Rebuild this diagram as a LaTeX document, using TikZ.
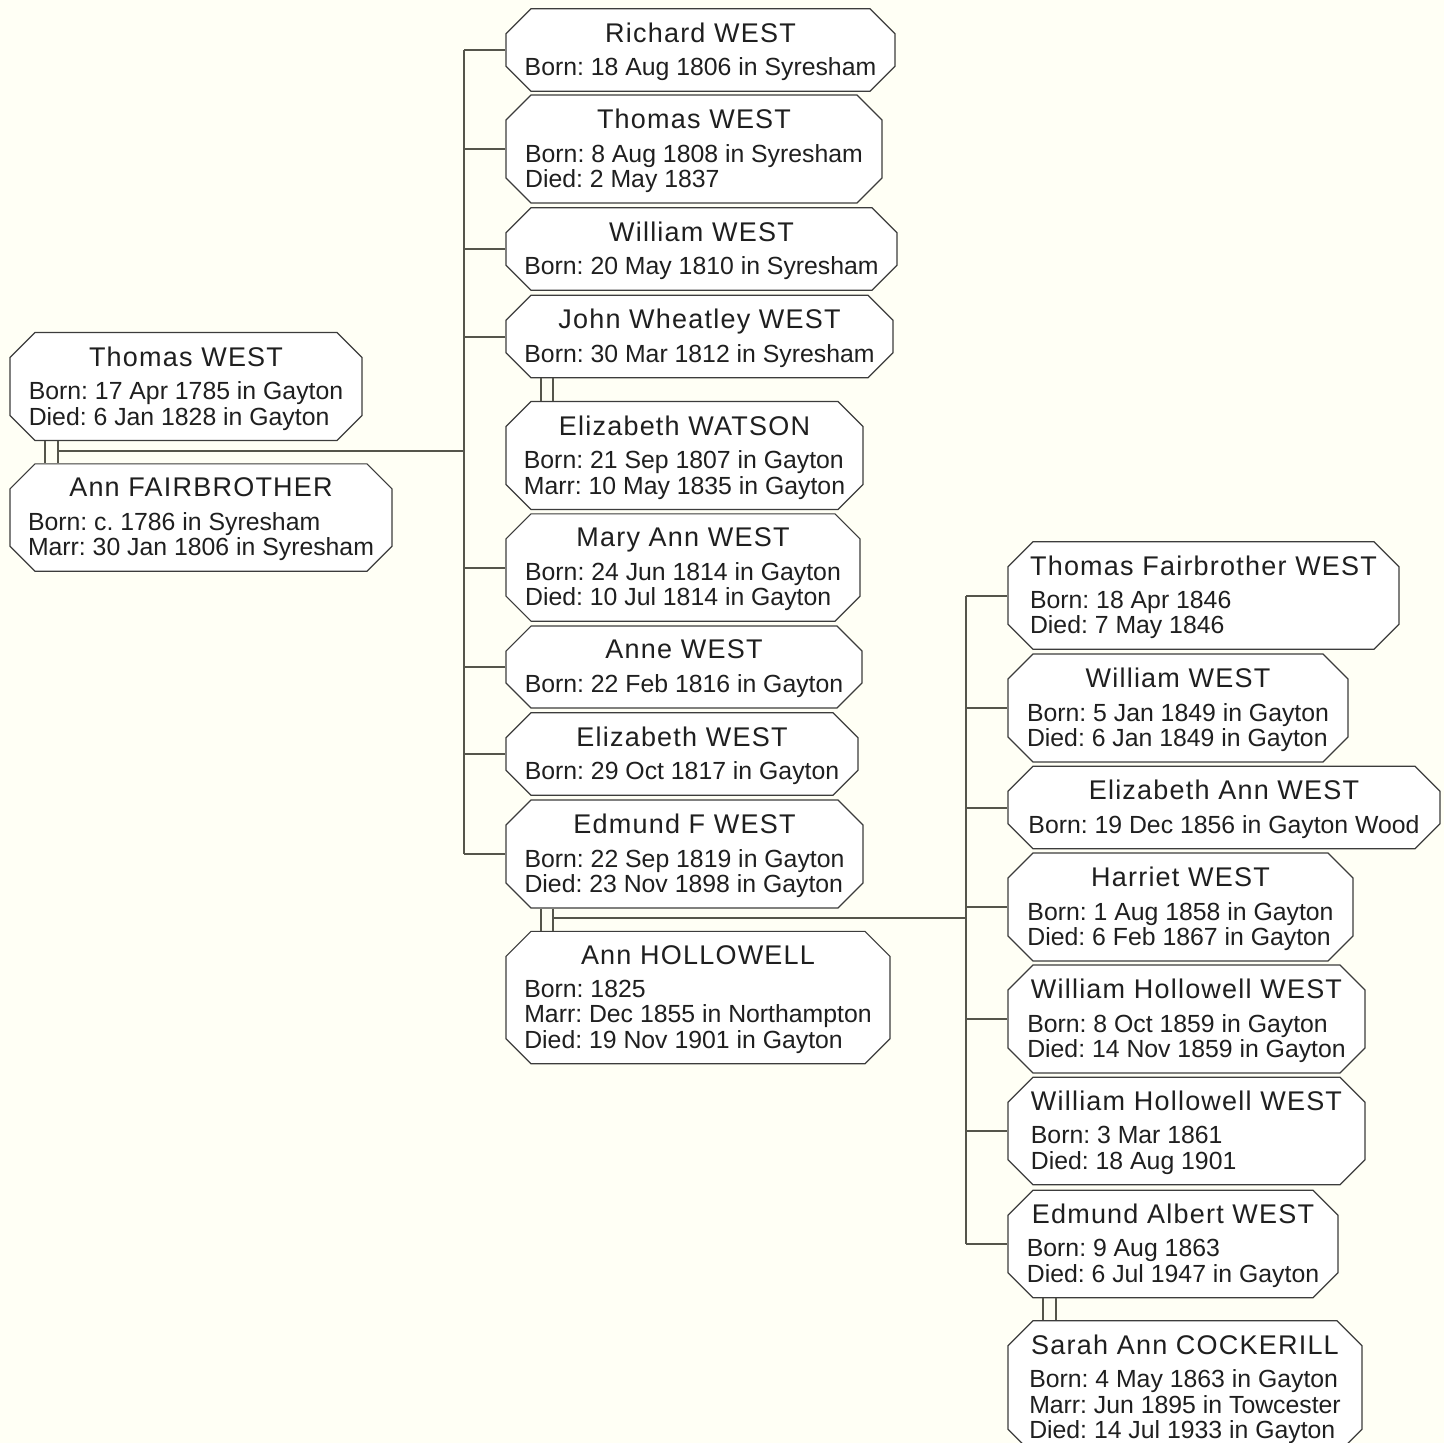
\documentclass[tikz,border=0pt]{standalone}
\usepackage{fontspec}
\setmainfont{Liberation Sans}
\newfontfamily\namefam[LetterSpace=4.5]{Liberation Sans}
\usetikzlibrary{shapes.misc}

\definecolor{paper}{RGB}{255,255,245}
\definecolor{frame}{RGB}{60,60,60}
\definecolor{linkcol}{RGB}{85,85,75}

% box text: centred name, then the dates
\newcommand{\who}[2]{\raisebox{-3pt}[\height][\depth]{\setlength\tabcolsep{0pt}\begin{tabular}{l}\multicolumn{1}{c}{\namefam\fontsize{27}{27}\selectfont #1}\\[8pt] #2\end{tabular}}}

\tikzset{
  person/.style={chamfered rectangle, chamfered rectangle xsep=14pt, chamfered rectangle ysep=11pt,
    draw=frame, fill=white, line width=1.2pt, inner sep=0pt,
    font=\fontsize{24.8}{25}\selectfont\frenchspacing, text=black!88},
  link/.style={draw=linkcol, line width=2pt},
}

\begin{document}
\begin{tikzpicture}[x=1pt, y=-1pt]
\fill[paper] (0,0) rectangle (1444,1443);
\useasboundingbox (0,0) rectangle (1444,1443);

% parents
\node[person, minimum width=352pt, minimum height=103pt] (th) at (186,386.5) {\who{Thomas WEST}{Born: 17 Apr 1785 in Gayton\\ Died: 6 Jan 1828 in Gayton}};
\node[person, minimum width=382pt, minimum height=103pt] (af) at (201,517.5) {\who{Ann FAIRBROTHER}{Born: c. 1786 in Syresham\\ Marr: 30 Jan 1806 in Syresham}};

% children
\node[person, minimum width=389pt, minimum height=78pt] (rw) at (700.5,50) {\who{Richard WEST}{Born: 18 Aug 1806 in Syresham}};
\node[person, minimum width=376pt, minimum height=102pt] (tw) at (694,149) {\who{Thomas WEST}{Born: 8 Aug 1808 in Syresham\\ Died: 2 May 1837}};
\node[person, minimum width=391pt, minimum height=78pt] (ww) at (701.5,249) {\who{William WEST}{Born: 20 May 1810 in Syresham}};
\node[person, minimum width=387pt, minimum height=79pt] (jw) at (699.5,336.5) {\who{John Wheatley WEST}{Born: 30 Mar 1812 in Syresham}};
\node[person, minimum width=357pt, minimum height=103pt] (ew) at (684.5,455.5) {\who{Elizabeth WATSON}{Born: 21 Sep 1807 in Gayton\\ Marr: 10 May 1835 in Gayton}};
\node[person, minimum width=354pt, minimum height=103pt] (mw) at (683,567.5) {\who{Mary Ann WEST}{Born: 24 Jun 1814 in Gayton\\ Died: 10 Jul 1814 in Gayton}};
\node[person, minimum width=356pt, minimum height=78pt] (aw) at (684,667) {\who{Anne WEST}{Born: 22 Feb 1816 in Gayton}};
\node[person, minimum width=352pt, minimum height=78pt] (bw) at (682,754) {\who{Elizabeth WEST}{Born: 29 Oct 1817 in Gayton}};
\node[person, minimum width=357pt, minimum height=102pt] (ef) at (684.5,854) {\who{Edmund F WEST}{Born: 22 Sep 1819 in Gayton\\ Died: 23 Nov 1898 in Gayton}};
\node[person, minimum width=384pt, minimum height=127pt] (ah) at (698,997.5) {\who{Ann HOLLOWELL}{Born: 1825\\ Marr: Dec 1855 in Northampton\\ Died: 19 Nov 1901 in Gayton}};

% grandchildren
\node[person, minimum width=391pt, minimum height=103pt] (tf) at (1203.5,595.5) {\who{Thomas Fairbrother WEST}{Born: 18 Apr 1846\\ Died: 7 May 1846}};
\node[person, minimum width=340pt, minimum height=102pt] (wj) at (1178,708) {\who{William WEST}{Born: 5 Jan 1849 in Gayton\\ Died: 6 Jan 1849 in Gayton}};
\node[person, minimum width=432pt, minimum height=79pt] (ea) at (1224,807.5) {\who{Elizabeth Ann WEST}{Born: 19 Dec 1856 in Gayton Wood}};
\node[person, minimum width=345pt, minimum height=102pt] (hw) at (1180.5,907) {\who{Harriet WEST}{Born: 1 Aug 1858 in Gayton\\ Died: 6 Feb 1867 in Gayton}};
\node[person, minimum width=357pt, minimum height=102pt] (wh) at (1186.5,1019) {\who{William Hollowell WEST}{Born: 8 Oct 1859 in Gayton\\ Died: 14 Nov 1859 in Gayton}};
\node[person, minimum width=357pt, minimum height=102pt] (wm) at (1186.5,1131) {\who{William Hollowell WEST}{Born: 3 Mar 1861\\ Died: 18 Aug 1901}};
\node[person, minimum width=330pt, minimum height=102pt] (eaw) at (1173,1244) {\who{Edmund Albert WEST}{Born: 9 Aug 1863\\ Died: 6 Jul 1947 in Gayton}};
\node[person, minimum width=354pt, minimum height=127pt] (sc) at (1185,1387.5) {\who{Sarah Ann COCKERILL}{Born: 4 May 1863 in Gayton\\ Marr: Jun 1895 in Towcester\\ Died: 14 Jul 1933 in Gayton}};

% trunks and marriages
\coordinate (t1) at (464,0);
\coordinate (t2) at (966,0);
\coordinate (m1) at (51.5,451);
\coordinate (m2) at (547,390);
\coordinate (m3) at (547,918);
\coordinate (m4) at (1049.5,1309);

\draw[link] (t1 |- rw.west) -- (t1 |- ef.west);
\foreach \c in {rw,tw,ww,jw,mw,aw,bw,ef}
  \draw[link] (t1 |- \c.west) -- (\c.west);
\draw[link] (t2 |- tf.west) -- (t2 |- eaw.west);
\foreach \c in {tf,wj,ea,hw,wh,wm,eaw}
  \draw[link] (t2 |- \c.west) -- (\c.west);

\draw[link] ([xshift=-6.5pt]m1 |- th.south) -- ([xshift=-6.5pt]m1 |- af.north);
\draw[link] ([xshift=6.5pt]m1 |- th.south) -- ([xshift=6.5pt]m1 |- af.north);
\draw[link] ([xshift=6.5pt]m1) -- (t1 |- m1);

\draw[link] ([xshift=-6pt]m2 |- jw.south) -- ([xshift=-6pt]m2 |- ew.north);
\draw[link] ([xshift=6pt]m2 |- jw.south) -- ([xshift=6pt]m2 |- ew.north);

\draw[link] ([xshift=-6pt]m3 |- ef.south) -- ([xshift=-6pt]m3 |- ah.north);
\draw[link] ([xshift=6pt]m3 |- ef.south) -- ([xshift=6pt]m3 |- ah.north);
\draw[link] ([xshift=6pt]m3) -- (t2 |- m3);

\draw[link] ([xshift=-6.5pt]m4 |- eaw.south) -- ([xshift=-6.5pt]m4 |- sc.north);
\draw[link] ([xshift=6.5pt]m4 |- eaw.south) -- ([xshift=6.5pt]m4 |- sc.north);
\end{tikzpicture}
\end{document}
